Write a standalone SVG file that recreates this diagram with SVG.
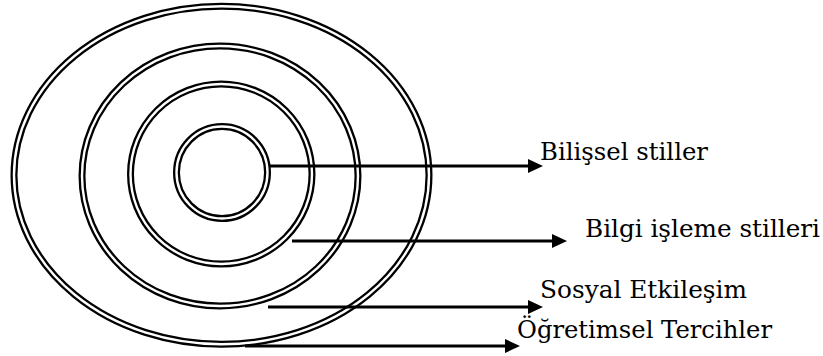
<svg xmlns="http://www.w3.org/2000/svg" width="823" height="356" viewBox="0 0 823 356">
  <style>
    .band { fill: none; stroke: #000; stroke-width: 7; }
    .gap { fill: none; stroke: #fff; stroke-width: 2.4; }
    .arrow { stroke: #000; stroke-width: 3; fill: none; marker-end: url(#head); }
    .label { font-family: "DejaVu Serif", serif; font-size: 24.5px; fill: #000; }
  </style>
  <defs>
    <marker id="head" markerUnits="userSpaceOnUse" markerWidth="16" markerHeight="14" refX="3" refY="7" orient="auto">
      <path d="M0,0 L15,7 L0,14 Z" fill="#000"/>
    </marker>
  </defs>

  <!-- concentric double-line rings, outermost first -->
  <g id="ring-ogretimsel">
    <ellipse class="band" cx="221.5" cy="175.25" rx="207.5" ry="169"/>
    <ellipse class="gap" cx="221.5" cy="175.25" rx="207.5" ry="169"/>
  </g>
  <g id="ring-sosyal">
    <ellipse class="band" cx="220" cy="176" rx="138" ry="130"/>
    <ellipse class="gap" cx="220" cy="176" rx="138" ry="130"/>
  </g>
  <g id="ring-bilgi">
    <ellipse class="band" cx="221.25" cy="174" rx="90.75" ry="90"/>
    <ellipse class="gap" cx="221.25" cy="174" rx="90.75" ry="90"/>
  </g>
  <g id="ring-bilissel">
    <ellipse class="band" cx="222" cy="172.5" rx="45.5" ry="46"/>
    <ellipse class="gap" cx="222" cy="172.5" rx="45.5" ry="46"/>
  </g>

  <!-- pointers from each ring to its label -->
  <g id="connectors">
    <line class="arrow" x1="270" y1="166" x2="531" y2="166"/>
    <line class="arrow" x1="292" y1="241" x2="555" y2="241"/>
    <line class="arrow" x1="268" y1="307" x2="531" y2="307"/>
    <line class="arrow" x1="245" y1="346" x2="508" y2="346"/>
  </g>

  <g id="labels">
    <text class="label" x="540" y="160" textLength="168" lengthAdjust="spacingAndGlyphs">Bilişsel stiller</text>
    <text class="label" x="585" y="237" textLength="235" lengthAdjust="spacingAndGlyphs">Bilgi işleme stilleri</text>
    <text class="label" x="540" y="298" textLength="207" lengthAdjust="spacingAndGlyphs">Sosyal Etkileşim</text>
    <text class="label" x="517" y="338" textLength="255" lengthAdjust="spacingAndGlyphs">Öğretimsel Tercihler</text>
  </g>
</svg>
